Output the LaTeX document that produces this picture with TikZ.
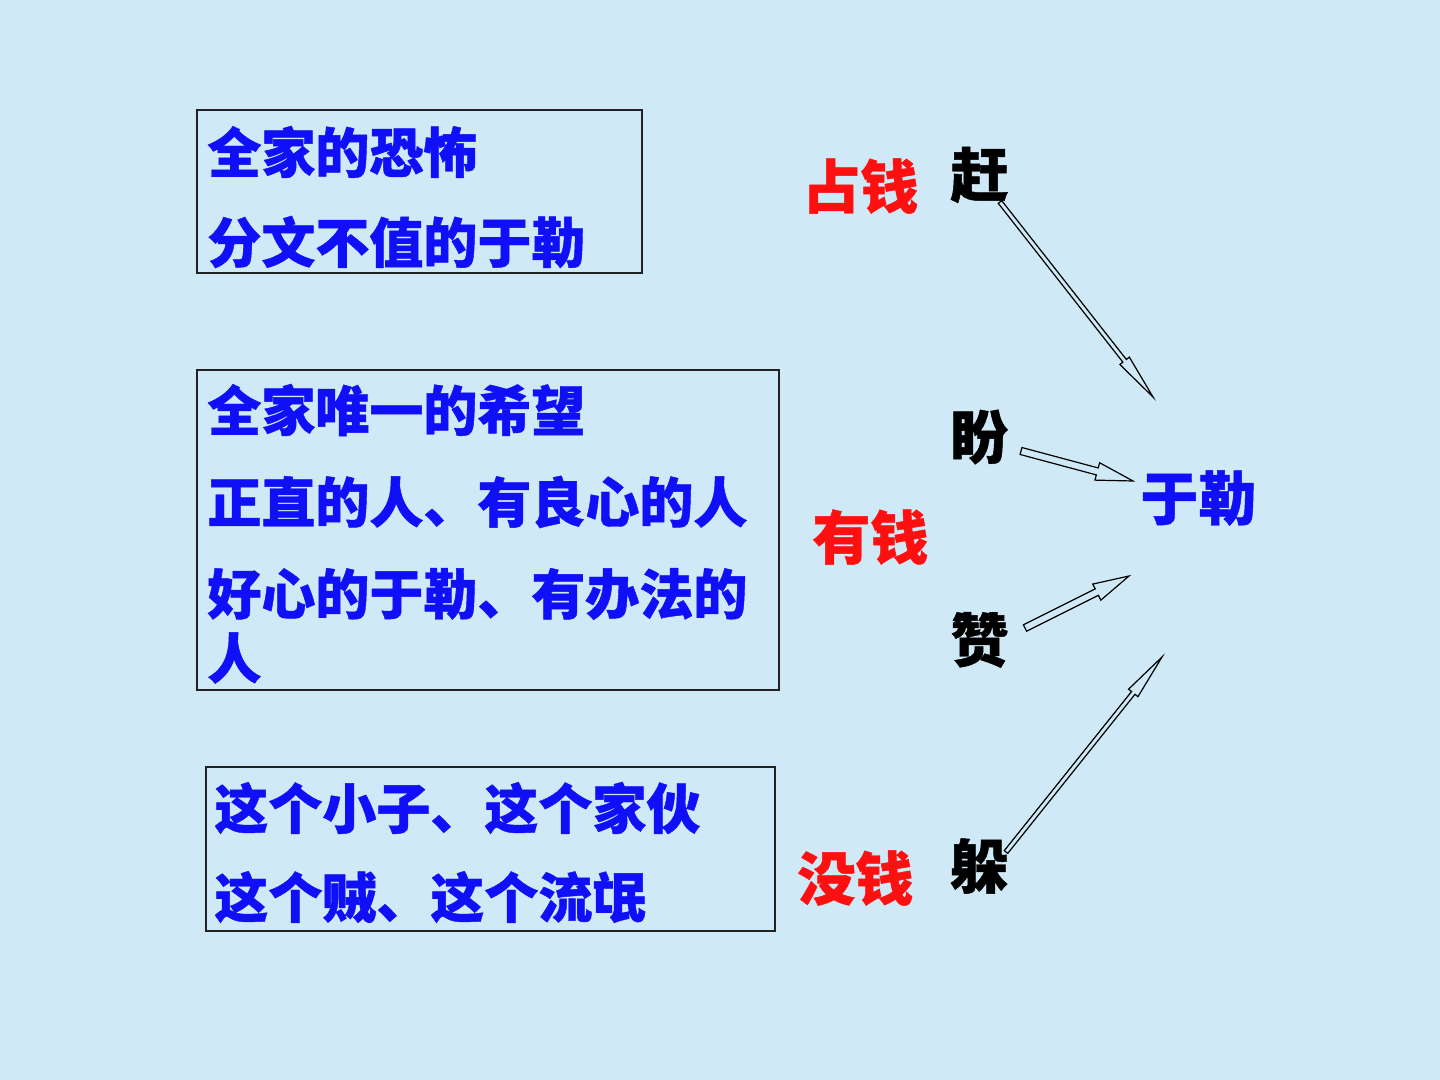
\documentclass[tikz,border=0pt]{standalone}
\usepackage{fontspec}
\newfontfamily\cjk{Noto Sans CJK SC}[BoldFeatures={FakeBold=0.8}]
\usepackage{tikz}
\usetikzlibrary{calc,positioning}
\definecolor{Paper}{HTML}{D0E9F7}
\definecolor{InkBlue}{HTML}{1010F8}
\definecolor{InkRed}{HTML}{FF1010}
\definecolor{Frame}{HTML}{222222}

% hollow block arrow: start, tip, half shaft, half head, head length
\newcommand\hollowarrow[5]{%
  \coordinate (#2-base) at ($(#2)!#5!(#1)$);
  \draw[hollow]
    ($(#1)!#3!90:(#2)$) -- ($(#2-base)!#3!90:(#2)$) -- ($(#2-base)!#4!90:(#2)$)
    -- (#2)
    -- ($(#2-base)!#4!-90:(#2)$) -- ($(#2-base)!#3!-90:(#2)$) -- ($(#1)!#3!-90:(#2)$)
    -- cycle;
}

\begin{document}
\begin{tikzpicture}[
  x=0.5pt,y=-0.5pt,
  frame/.style={draw=Frame,line width=0.6pt,inner sep=0pt},
  blueline/.style={anchor=west,inner sep=0pt,text=InkBlue,
    font=\cjk\bfseries\fontsize{27pt}{27pt}\selectfont},
  money/.style={anchor=west,inner sep=0pt,text=InkRed,
    font=\cjk\bfseries\fontsize{29pt}{29pt}\selectfont},
  verb/.style={anchor=west,inner sep=0pt,text=black,
    font=\cjk\bfseries\fontsize{29pt}{29pt}\selectfont},
  hollow/.style={draw=black,fill=Paper,line width=0.6pt,line join=miter}
]
  \path[fill=Paper] (0,0) rectangle (1440,1080);
  \useasboundingbox (0,0) rectangle (1440,1080);

  % boxes
  \node[frame,minimum width=222.5pt,minimum height=81.5pt] (fearbox) at (419.5,191.5) {};
  \node[frame,minimum width=291pt,minimum height=160pt] (hopebox) at (488,530) {};
  \node[frame,minimum width=284.5pt,minimum height=82pt] (thiefbox) at (490.5,849) {};

  \node[blueline] (fear1) at (207,152) {全家的恐怖};
  \node[blueline] (fear2) at (207,242) {分文不值的于勒};

  \node[blueline] (hope1) at (207,410) {全家唯一的希望};
  \node[blueline] (hope2) at (207,502) {正直的人、有良心的人};
  \node[blueline] (hope3) at (207,594) {好心的于勒、有办法的};
  \node[blueline] (hope4) at (207,658) {人};

  \node[blueline] (thief1) at (214,808) {这个小子、这个家伙};
  \node[blueline] (thief2) at (214,898) {这个贼、这个流氓};

  % money and verbs
  \node[money] (zhanqian) at (802,186) {占钱};
  \node[money] (youqian) at (812,537) {有钱};
  \node[money] (meiqian) at (797,878) {没钱};

  \node[verb] (gan) at (950,175) {赶};
  \node[verb] (pan) at (950,437) {盼};
  \node[verb] (zan) at (950,640) {赞};
  \node[verb] (duo) at (950,866) {躲};

  \node[money,text=InkBlue] (yule) at (1140,498) {于勒};

  % arrows
  \coordinate (gan-s) at (1000,202);
  \coordinate (gan-t) at (1153,397);
  \coordinate (pan-s) at (1021,451);
  \coordinate (pan-t) at (1133,481);
  \coordinate (zan-s) at (1025,628);
  \coordinate (zan-t) at (1129,576);
  \coordinate (duo-s) at (1006,852);
  \coordinate (duo-t) at (1162,657);

  \hollowarrow{gan-s}{gan-t}{1.1pt}{3pt}{23pt}
  \hollowarrow{pan-s}{pan-t}{1.8pt}{4.5pt}{18.5pt}
  \hollowarrow{zan-s}{zan-t}{1.8pt}{4.5pt}{18pt}
  \hollowarrow{duo-s}{duo-t}{1.1pt}{3pt}{23pt}
\end{tikzpicture}
\end{document}
